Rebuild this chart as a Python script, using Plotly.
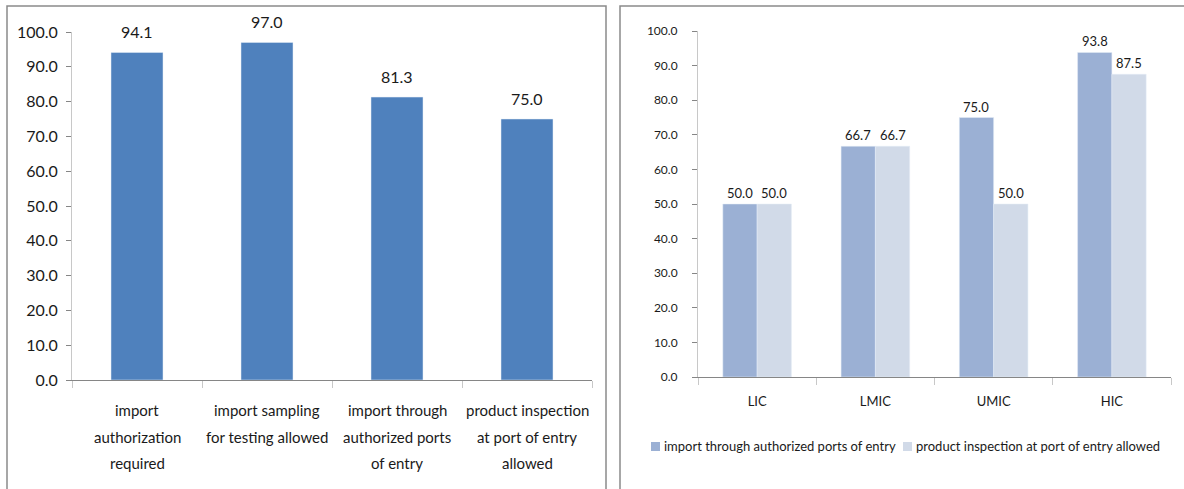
import plotly.graph_objects as go

W, H = 1184, 489

# ---- data ----
left_categories = ["import authorization required", "import sampling for testing allowed",
                   "import through authorized ports of entry", "product inspection at port of entry allowed"]
left_label_lines = [["import", "authorization", "required"],
                    ["import sampling", "for testing allowed"],
                    ["import through", "authorized ports", "of entry"],
                    ["product inspection", "at port of entry", "allowed"]]
left_values = [94.1, 97.0, 81.3, 75.0]

right_categories = ["LIC", "LMIC", "UMIC", "HIC"]
series_names = ["import through authorized ports of entry", "product inspection at port of entry allowed"]
series_ports = [50.0, 66.7, 75.0, 93.8]
series_inspection = [50.0, 66.7, 50.0, 87.5]

y_ticks = [0, 10, 20, 30, 40, 50, 60, 70, 80, 90, 100]

FONT = "Lato, Carlito, Calibri, sans-serif"
C_LEFT = "#4F81BD"
C_DARK = "#9BB0D4"
C_LIGHT = "#D1DAE8"
AX = "#868686"
TXT = "#1a1a1a"

def px_x(p):
    return p / W

def px_y(p):
    return 1 - p / H

fig = go.Figure()

fig.add_trace(go.Bar(x=left_categories, y=left_values, marker_color=C_LEFT, width=0.4,
                     xaxis="x", yaxis="y", showlegend=False, hoverinfo="x+y"))
fig.add_trace(go.Bar(x=right_categories, y=series_ports, name=series_names[0], marker_color=C_DARK,
                     width=0.29, offset=-0.29, xaxis="x2", yaxis="y2", showlegend=False))
fig.add_trace(go.Bar(x=right_categories, y=series_inspection, name=series_names[1], marker_color=C_LIGHT,
                     width=0.29, offset=0.0, xaxis="x2", yaxis="y2", showlegend=False))

annotations = []
# left data labels
for c, v in zip(left_categories, left_values):
    annotations.append(dict(x=c, y=v, xref="x", yref="y", text=f"{v:.1f}", showarrow=False,
                            yanchor="middle", yshift=21, font=dict(family=FONT, size=16, color=TXT)))
# left category labels
line_y = [410, 437, 463]
for c, lines in zip(left_categories, left_label_lines):
    for i, t in enumerate(lines):
        annotations.append(dict(x=c, y=px_y(line_y[i]), xref="x", yref="paper", text=t, showarrow=False,
                                yanchor="middle", font=dict(family=FONT, size=15, color=TXT)))
# right data labels
for k, (vals, off) in enumerate([(series_ports, -0.145), (series_inspection, 0.145)]):
    for j, (c, v) in enumerate(zip(right_categories, vals)):
        annotations.append(dict(x=j + off, y=v, xref="x2", yref="y2", text=f"{v:.1f}", showarrow=False,
                                yanchor="middle", yshift=11, font=dict(family=FONT, size=13, color=TXT)))
# right legend (manual)
leg_items = [(651, C_DARK, series_names[0]), (903, C_LIGHT, series_names[1])]
shapes = []
for x0, col, name in leg_items:
    shapes.append(dict(type="rect", xref="paper", yref="paper", x0=px_x(x0), x1=px_x(x0 + 9),
                       y0=px_y(451), y1=px_y(442), fillcolor=col, line=dict(width=0)))
    annotations.append(dict(x=px_x(x0 + 11), y=px_y(446), xref="paper", yref="paper", text=name,
                            showarrow=False, xanchor="left", yanchor="middle",
                            font=dict(family=FONT, size=13, color=TXT)))

# panel borders (bottom edges lie below the visible area)
shapes.append(dict(type="rect", xref="paper", yref="paper", x0=px_x(7), x1=px_x(606),
                   y0=px_y(540), y1=px_y(6), line=dict(color="#8a8a8a", width=1.5)))
shapes.append(dict(type="rect", xref="paper", yref="paper", x0=px_x(620), x1=px_x(1220),
                   y0=px_y(540), y1=px_y(6), line=dict(color="#8a8a8a", width=1.5)))

yaxis_common = dict(range=[0, 100], tickvals=y_ticks, tickformat=".1f", showgrid=False, zeroline=False,
                    showline=True, linecolor="#c8c8c8", linewidth=1, ticks="outside", ticklen=5,
                    tickcolor=AX, fixedrange=True, automargin=False)
xaxis_common = dict(showgrid=False, zeroline=False, showline=True, linecolor=AX, linewidth=1,
                    ticks="outside", tickson="boundaries", ticklen=7, tickcolor="#c8c8c8",
                    range=[-0.5, 3.5], fixedrange=True, automargin=False)

fig.update_layout(
    width=W, height=H, margin=dict(l=0, r=0, t=0, b=0, autoexpand=False),
    paper_bgcolor="white", plot_bgcolor="white",
    barmode="group", showlegend=False,
    font=dict(family=FONT, color=TXT),
    xaxis=dict(domain=[px_x(72), px_x(592)], anchor="y", showticklabels=False, **xaxis_common),
    yaxis=dict(domain=[px_y(380), px_y(32)], anchor="x", tickfont=dict(size=16, family=FONT, color=TXT),
               ticklabelstandoff=5, **yaxis_common),
    xaxis2=dict(domain=[px_x(698), px_x(1171)], anchor="y2", tickfont=dict(size=13, family=FONT, color=TXT),
                ticklabelstandoff=12, **xaxis_common),
    yaxis2=dict(domain=[px_y(377), px_y(31)], anchor="x2", tickfont=dict(size=12, family=FONT, color=TXT),
                ticklabelstandoff=12, **yaxis_common),
    annotations=annotations, shapes=shapes,
)

fig.write_html("out.html")
